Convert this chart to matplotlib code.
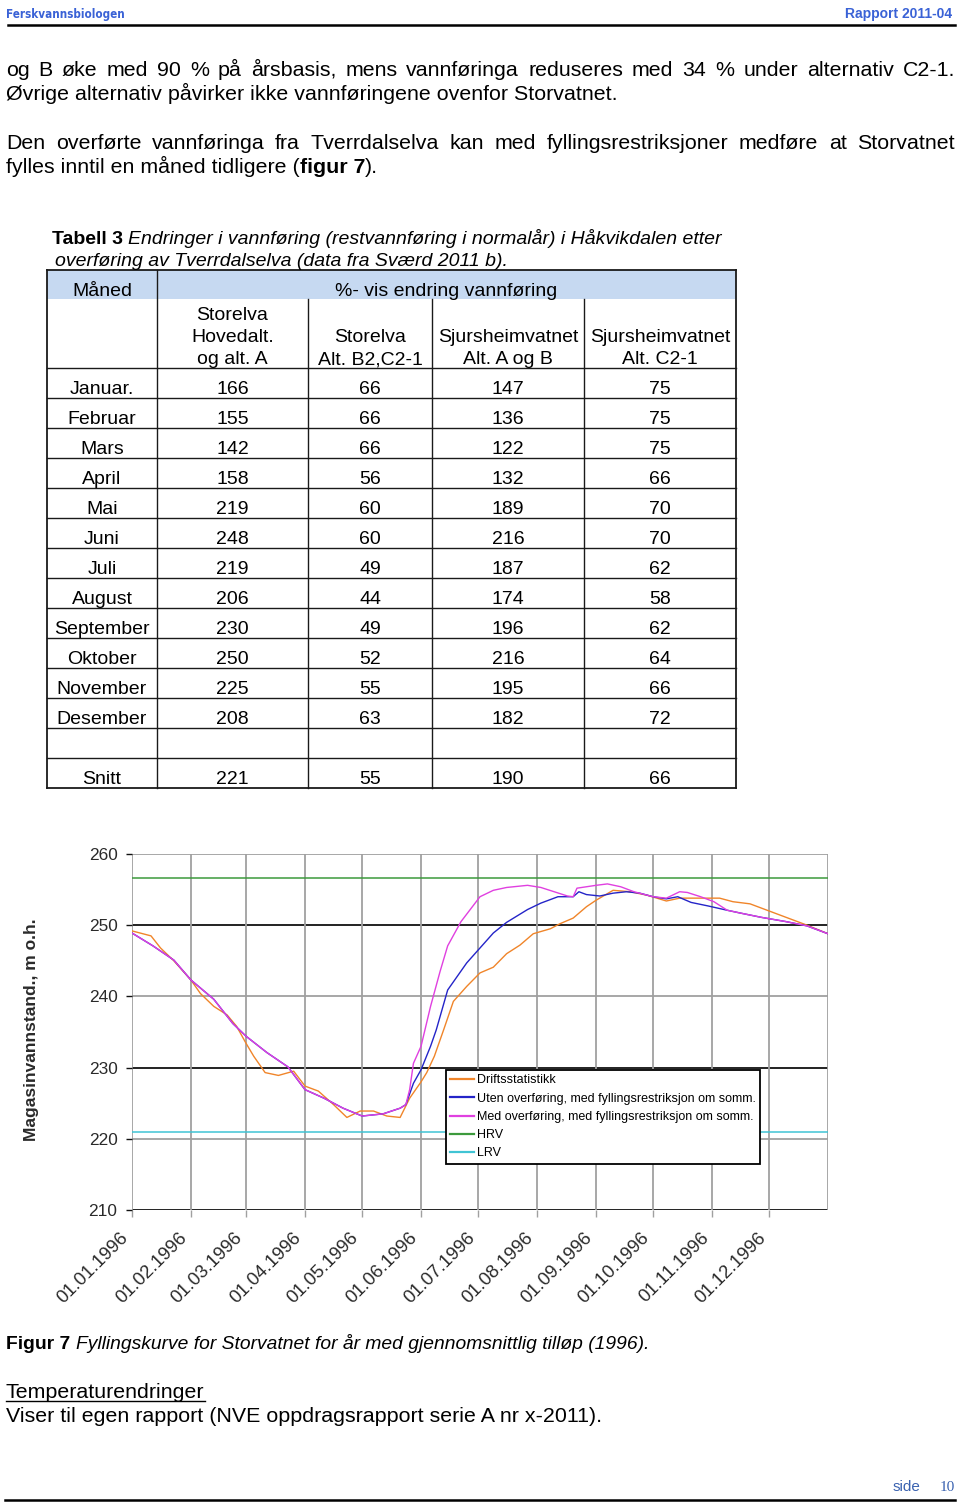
import matplotlib
matplotlib.use("Agg")
import matplotlib.pyplot as plt
from matplotlib.patches import Rectangle
from matplotlib.transforms import ScaledTranslation

plt.rcParams['font.family'] = ['Liberation Sans', 'DejaVu Sans']

# --- table data (Tabell 3) ---
months = ["Januar.", "Februar", "Mars", "April", "Mai", "Juni", "Juli",
          "August", "September", "Oktober", "November", "Desember"]
storelva_hoved = [166, 155, 142, 158, 219, 248, 219, 206, 230, 250, 225, 208]
storelva_b2c21 = [66, 66, 66, 56, 60, 60, 49, 44, 49, 52, 55, 63]
sjurs_a_b = [147, 136, 122, 132, 189, 216, 187, 174, 196, 216, 195, 182]
sjurs_c21 = [75, 75, 75, 66, 70, 70, 62, 58, 62, 64, 66, 72]
snitt = [221, 55, 190, 66]

# --- chart data (Figur 7), x = day of year 1996 ---
month_starts = [0, 31, 60, 91, 121, 152, 182, 213, 244, 274, 305, 335]
date_labels = ["01.%02d.1996" % m for m in range(1, 13)]

drift_day = [0, 10, 15, 22, 31, 36, 43, 50, 55, 60, 64, 70, 77, 85, 91, 98,
             106, 113, 120, 127, 134, 141, 146, 152, 155, 159, 164, 169, 176,
             183, 190, 197, 204, 211, 220, 225, 232, 239, 244, 253, 262, 271,
             281, 288, 299, 309, 316, 325, 334, 344, 355, 366]
drift_lvl = [249.2, 248.5, 246.8, 245.0, 242.3, 240.4, 238.6, 237.4, 235.8,
             233.4, 231.6, 229.3, 228.9, 229.5, 227.4, 226.7, 224.8, 223.0,
             223.9, 223.9, 223.2, 223.0, 225.7, 228.0, 229.3, 231.6, 235.4,
             239.3, 241.4, 243.3, 244.1, 246.0, 247.2, 248.8, 249.5, 250.2,
             251.0, 252.6, 253.5, 254.9, 254.7, 254.2, 253.4, 253.8, 253.8,
             253.8, 253.3, 253.0, 252.1, 251.1, 250.0, 248.8]

uten_day = [0, 11, 22, 31, 43, 53, 60, 71, 82, 91, 101, 111, 121, 132, 141,
            144, 148, 152, 157, 160, 166, 171, 176, 183, 190, 197, 208, 215,
            224, 232, 235, 239, 246, 253, 260, 267, 274, 281, 287, 294, 303,
            313, 320, 331, 344, 355, 366]
uten_lvl = [248.9, 247.1, 245.1, 242.3, 239.6, 236.2, 234.4, 232.1, 230.1,
            226.9, 225.7, 224.3, 223.2, 223.5, 224.3, 224.8, 227.8, 229.7,
            233.0, 235.3, 240.9, 242.8, 244.7, 246.8, 248.9, 250.4, 252.2,
            253.1, 254.0, 254.0, 254.7, 254.3, 254.1, 254.5, 254.7, 254.5,
            254.0, 253.7, 254.0, 253.2, 252.7, 252.1, 251.7, 251.1, 250.5,
            249.9, 248.8]

med_day = [0, 11, 22, 31, 43, 53, 60, 71, 82, 91, 101, 111, 121, 132, 141,
           144, 146, 148, 152, 157, 162, 166, 173, 183, 190, 197, 208, 215,
           222, 229, 232, 234, 239, 244, 250, 257, 264, 274, 281, 288, 292,
           299, 306, 313, 320, 331, 344, 355, 366]
med_lvl = [248.9, 247.1, 245.1, 242.3, 239.6, 236.2, 234.4, 232.1, 230.1,
           226.9, 225.7, 224.3, 223.2, 223.5, 224.3, 224.8, 226.9, 230.6,
           233.0, 238.6, 243.5, 247.1, 250.5, 254.0, 254.9, 255.3, 255.6,
           255.3, 254.7, 254.1, 254.0, 255.2, 255.4, 255.6, 255.8, 255.4,
           254.7, 254.0, 253.8, 254.7, 254.6, 254.0, 253.3, 252.1, 251.7,
           251.1, 250.5, 249.9, 248.8]

HRV = 256.6
LRV = 221.0
y_ticks = [210, 220, 230, 240, 250, 260]

W, H = 960, 1502
fig = plt.figure(figsize=(W / 100, H / 100), dpi=100)
page = fig.add_axes([0, 0, 1, 1])
page.set_xlim(0, W)
page.set_ylim(H, 0)
page.axis('off')
renderer = fig.canvas.get_renderer()


def put(x, y, s, size, **kw):
    kw.setdefault('va', 'baseline')
    kw.setdefault('ha', 'left')
    return page.text(x, y, s, fontsize=size, **kw)


def wid(t):
    return t.get_window_extent(renderer).width


def space_width(size, **kw):
    a = put(0, 500, "x x", size, **kw)
    b = put(0, 500, "xx", size, **kw)
    w = wid(a) - wid(b)
    a.remove()
    b.remove()
    return w


def run(x, y, parts, size):
    # parts: list of (text, kwargs); a single space is put between parts
    sp = space_width(size)
    for s, kw in parts:
        t = put(x, y, s, size, **kw)
        x += wid(t) + sp
    return x


def justify(x0, x1, y, line, size, **kw):
    words = line.split()
    ts = [put(x0, y, w, size, **kw) for w in words]
    ws = [wid(t) for t in ts]
    gap = (x1 - x0 - sum(ws)) / (len(words) - 1)
    x = x0
    for t, w in zip(ts, ws):
        t.set_x(x)
        x += w + gap


# header
blue_hdr = '#3a62d6'
put(6, 18, "Ferskvannsbiologen", 8.4, color=blue_hdr, fontweight='bold',
    family=['DejaVu Sans'], fontstretch='condensed')
put(952, 18, "Rapport 2011-04", 10, color=blue_hdr, fontweight='bold', ha='right')
page.plot([8, 955], [24.5, 24.5], color='black', lw=1.8)

# body text
BODY = 15.4
justify(6, 955, 76, "og B øke med 90 % på årsbasis, mens vannføringa reduseres med 34 % under alternativ C2-1.", BODY)
put(6, 100, "Øvrige alternativ påvirker ikke vannføringene ovenfor Storvatnet.", BODY)
justify(6, 955, 149, "Den overførte vannføringa fra Tverrdalselva kan med fyllingsrestriksjoner medføre at Storvatnet", BODY)
t = put(6, 173, "fylles inntil en måned tidligere (", BODY)
x = 6 + wid(t)
t = put(x, 173, "figur 7", BODY, fontweight='bold')
put(x + wid(t), 173, ").", BODY)

# table caption
CAP = 14
run(52, 244, [("Tabell 3", dict(fontweight='bold')),
              ("Endringer i vannføring (restvannføring i normalår) i Håkvikdalen etter", dict(style='italic'))], CAP)
put(55, 266, "overføring av Tverrdalselva (data fra Sværd 2011 b).", CAP, style='italic')

# table
TS = 14
col_x = [47, 157, 308, 432, 584, 736]
top, h1, h2, row_h = 270, 299, 368, 30
n_rows = 14
bottom = h2 + n_rows * row_h
page.add_patch(Rectangle((col_x[0], top), col_x[-1] - col_x[0], h1 - top,
                         facecolor='#c6d9f1', edgecolor='none'))
lc = '#1a1a1a'
for yy in [top, bottom]:
    page.plot([col_x[0], col_x[-1]], [yy, yy], color=lc, lw=1.3)
for k in range(n_rows):
    yy = h2 + k * row_h
    page.plot([col_x[0], col_x[-1]], [yy, yy], color=lc, lw=1.0)
for i, xx in enumerate(col_x):
    y_start = top if i in (0, 1, 5) else h1
    page.plot([xx, xx], [y_start, bottom], color=lc, lw=1.3 if i in (0, 5) else 1.0)

cx = [(col_x[i] + col_x[i + 1]) / 2 for i in range(5)]
put(cx[0], 296, "Måned", TS, ha='center')
put((col_x[1] + col_x[-1]) / 2, 296, "%- vis endring vannføring", TS, ha='center')
sub = [["Storelva", "Hovedalt.", "og alt. A"],
       ["Storelva", "Alt. B2,C2-1"],
       ["Sjursheimvatnet", "Alt. A og B"],
       ["Sjursheimvatnet", "Alt. C2-1"]]
sub_base = [319.5, 342, 364.5]
for j, lines in enumerate(sub):
    for k, s in enumerate(lines):
        put(cx[j + 1], sub_base[k + 3 - len(lines)], s, TS, ha='center')

cols = [storelva_hoved, storelva_b2c21, sjurs_a_b, sjurs_c21]
for r, m in enumerate(months):
    yb = h2 + r * row_h + 25.5
    put(cx[0], yb, m, TS, ha='center')
    for j, c in enumerate(cols):
        put(cx[j + 1], yb, str(c[r]), TS, ha='center')
yb = h2 + 13 * row_h + 25.5
put(cx[0], yb, "Snitt", TS, ha='center')
for j, v in enumerate(snitt):
    put(cx[j + 1], yb, str(v), TS, ha='center')

# chart
ax = fig.add_axes([132 / W, (H - 1210) / H, 696 / W, 356 / H])
ax.axhline(HRV, color='#3c9a3c', lw=1.1, label='HRV')
ax.axhline(LRV, color='#40c4d4', lw=1.1, label='LRV')
ax.plot(drift_day, drift_lvl, color='#f0852a', lw=1.0, label='Driftsstatistikk')
ax.plot(uten_day, uten_lvl, color='#2424c8', lw=1.0,
        label='Uten overføring, med fyllingsrestriksjon om somm.')
ax.plot(med_day, med_lvl, color='#e040e0', lw=1.0,
        label='Med overføring, med fyllingsrestriksjon om somm.')
ax.set_xlim(0, 366)
ax.set_ylim(210, 260)
for s in ax.spines.values():
    s.set_visible(False)
for v in y_ticks:
    ax.axhline(v, color='#111111' if v in (210, 230, 250) else '#a0a0a0',
               lw=1.3, zorder=0.5)
for d in month_starts + [366]:
    ax.axvline(d, color='#a0a0a0', lw=1.3, zorder=0.5)
ax.set_yticks(y_ticks)
ax.set_yticklabels([str(v) for v in y_ticks], fontsize=12.4, color='#2a2a2a')
ax.tick_params(axis='y', length=4, width=1.0, color='#111111', pad=6.5)
ax.set_xticks(month_starts)
ax.set_xticklabels(date_labels, fontsize=13.3, color='#2a2a2a', rotation=45,
                   ha='right', va='top', rotation_mode='anchor')
ax.tick_params(axis='x', length=5, width=1.0, color='#a0a0a0', pad=9)
shift = ScaledTranslation(-12 / 100, 0, fig.dpi_scale_trans)
for lab in ax.get_xticklabels():
    lab.set_transform(lab.get_transform() + shift)

h, l = ax.get_legend_handles_labels()
order = [2, 3, 4, 0, 1]
leg = ax.legend([h[i] for i in order], [l[i] for i in order],
                loc='upper left', bbox_to_anchor=(0.451, 0.393),
                fontsize=9.0, frameon=True, fancybox=False, framealpha=1,
                edgecolor='black', handlelength=1.9, handletextpad=0.25,
                labelspacing=0.5, borderpad=0.35, borderaxespad=0)
leg.get_frame().set_linewidth(1.3)
for ln in leg.get_lines():
    ln.set_linewidth(1.6)

page.text(32, 1030, "Magasinvannstand., m o.h.", fontsize=12.5, fontweight='bold',
          color='#2a2a2a', rotation=90, ha='center', va='center')

# figure caption and closing text
run(6, 1349, [("Figur 7", dict(fontweight='bold')),
              ("Fyllingskurve for Storvatnet for år med gjennomsnittlig tilløp (1996).",
               dict(style='italic'))], 13.9)
t = put(6, 1398, "Temperaturendringer", BODY)
page.plot([6, 6 + wid(t)], [1401, 1401], color='black', lw=1.0)
put(6, 1422, "Viser til egen rapport (NVE oppdragsrapport serie A nr x-2011).", BODY)

put(893, 1491, "side", 11, color='#3a62b0')
put(955, 1491, "10", 11, color='#3a62b0', ha='right', family=['Liberation Serif'])
page.plot([5, 955], [1499.5, 1499.5], color='black', lw=1.8)

fig.savefig("out.png", dpi=100)
